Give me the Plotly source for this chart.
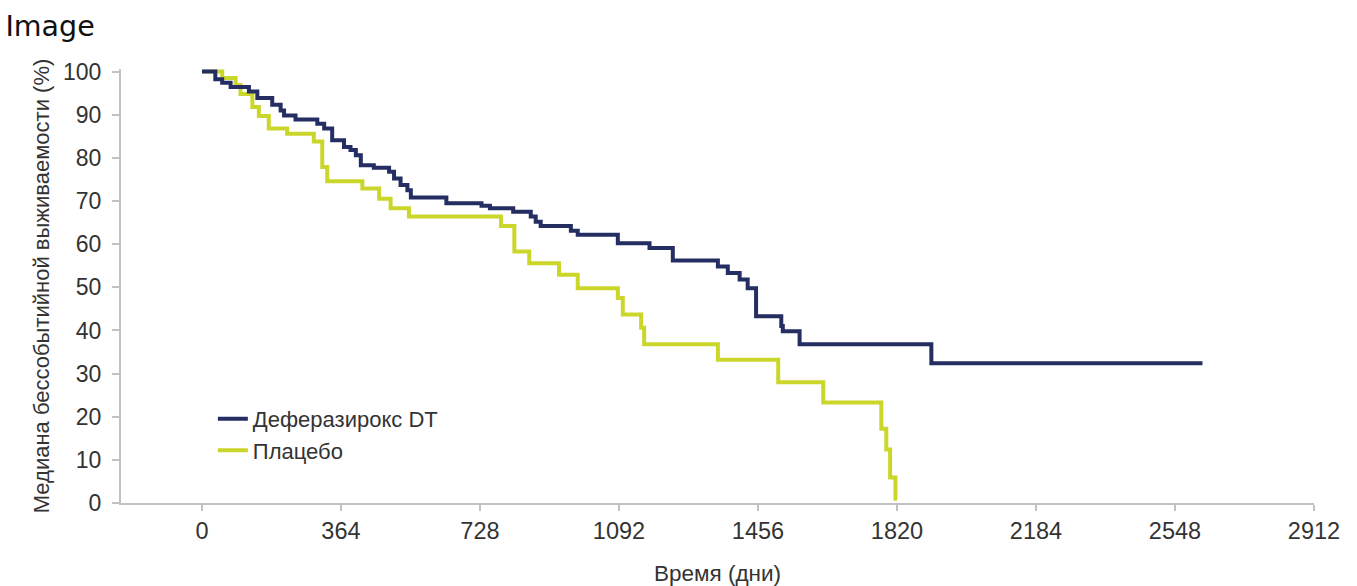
import plotly.graph_objects as go

# ---- data ----
deferasirox_days = [0, 35, 53, 75, 123, 145, 184, 206, 215, 245, 302, 320, 341, 372, 389, 403,
                    416, 450, 490, 503, 520, 538, 547, 640, 732, 754, 815, 861, 874, 887, 966,
                    984, 1089, 1172, 1233, 1351, 1377, 1408, 1429, 1451, 1517, 1521, 1565, 1910, 2620]
deferasirox_pct = [100, 98.2, 97.4, 96.4, 95.4, 93.9, 92.3, 91.0, 89.8, 88.9, 87.9, 86.8, 84.1, 82.5,
                   81.8, 80.6, 78.3, 77.7, 76.8, 75.2, 73.7, 72.5, 70.8, 69.5, 68.9, 68.3, 67.5, 66.4,
                   65.2, 64.2, 63.1, 62.2, 60.2, 59.1, 56.2, 54.8, 53.3, 51.8, 49.8, 43.3, 41.0, 39.8,
                   36.8, 32.4, 32.4]

placebo_days = [0, 53, 88, 101, 132, 149, 175, 223, 293, 315, 328, 420, 464, 494, 542, 783, 818,
                857, 935, 984, 1089, 1102, 1150, 1158, 1351, 1509, 1627, 1779, 1792, 1802, 1816, 1820]
placebo_pct = [100, 98.5, 96.9, 94.8, 91.8, 89.7, 86.8, 85.6, 83.8, 77.9, 74.6, 72.9, 70.5, 68.3,
               66.4, 64.2, 58.3, 55.6, 52.9, 49.8, 47.5, 43.7, 40.6, 36.8, 33.2, 28.0, 23.3, 17.2,
               12.4, 5.9, 1.0, 1.0]

x_ticks = [0, 364, 728, 1092, 1456, 1820, 2184, 2548, 2912]
y_ticks = [0, 10, 20, 30, 40, 50, 60, 70, 80, 90, 100]

series_names = ["Деферазирокс DT", "Плацебо"]
NAVY = "#252E63"
LIME = "#CBD62B"
AX = "#C2C2C2"
TXT = "#333333"
FONT = "Liberation Sans, Arial, sans-serif"

fig = go.Figure()
fig.add_trace(go.Scatter(
    x=placebo_days, y=placebo_pct, name=series_names[1], mode="lines",
    line=dict(color=LIME, width=4, shape="hv"), legendrank=2, legendgroup="b"))
fig.add_trace(go.Scatter(
    x=deferasirox_days, y=deferasirox_pct, name=series_names[0], mode="lines",
    line=dict(color=NAVY, width=4, shape="hv"), legendrank=1, legendgroup="a"))

fig.update_layout(
    width=1357, height=586,
    margin=dict(l=121, r=43, t=69, b=83, pad=0),
    paper_bgcolor="white", plot_bgcolor="white",
    font=dict(family=FONT, color=TXT, size=22),
    title=dict(text="Image", x=0.004, xanchor="left", y=0.955, yanchor="middle",
               font=dict(family="DejaVu Sans", size=28.5, color="#111111")),
    showlegend=True,
    legend=dict(x=0.077, y=0.242, xanchor="left", yanchor="top", bgcolor="rgba(0,0,0,0)",
                font=dict(size=22, color=TXT, family=FONT), traceorder="grouped",
                tracegroupgap=0),
    xaxis=dict(range=[-212, 2912], tickmode="array", tickvals=x_ticks,
               ticktext=[str(v) for v in x_ticks], automargin=False,
               showgrid=False, zeroline=False, showline=True, linecolor=AX, linewidth=2,
               ticks="outside", ticklen=6, tickwidth=1.5, tickcolor=AX,
               tickfont=dict(size=23.5, color=TXT),
               title=dict(text="Время (дни)", font=dict(size=22.5, color=TXT), standoff=30)),
    yaxis=dict(range=[0, 100.6], tickmode="array", tickvals=y_ticks, automargin=False,
               showgrid=False, zeroline=False, showline=True, linecolor=AX, linewidth=2,
               ticks="outside", ticklen=7, tickwidth=1.5, tickcolor=AX,
               tickfont=dict(size=23, color=TXT), ticklabelstandoff=6,
               title=dict(text="Медиана бессобытийной выживаемости (%)",
                          font=dict(size=22, color=TXT), standoff=7)),
)

fig.write_html("out.html", config={"displayModeBar": False},
               post_script="document.body.style.margin='0';")
